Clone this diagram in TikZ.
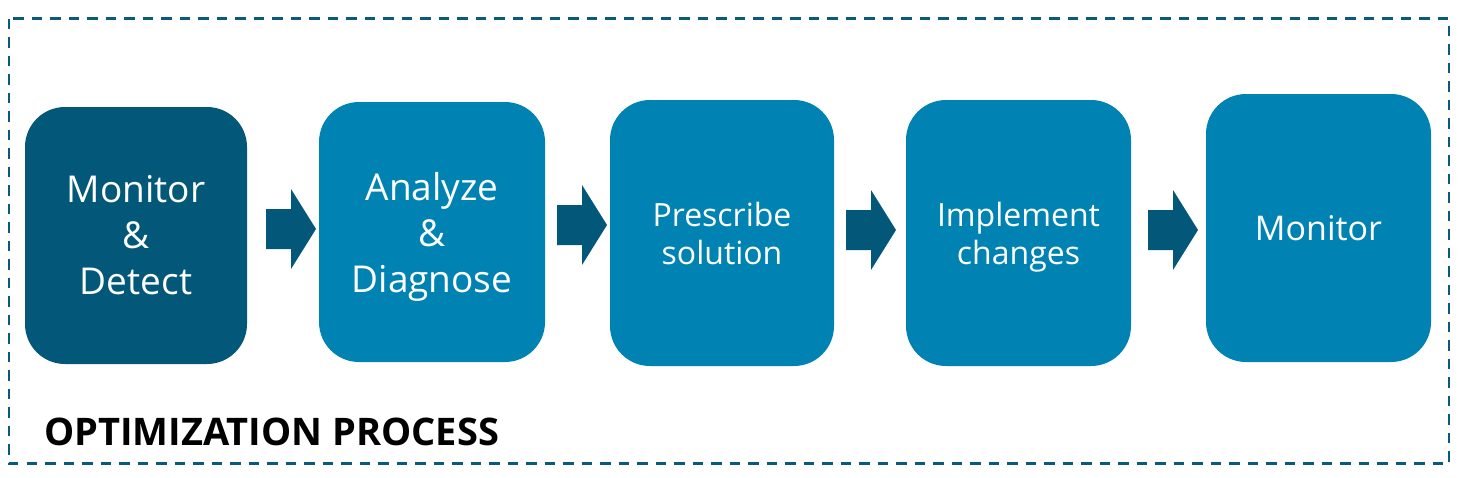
\documentclass[tikz,border=0pt]{standalone}
\usepackage{fontspec}
\setmainfont{Open Sans}
\usetikzlibrary{positioning}
\definecolor{darkteal}{HTML}{03587A}
\definecolor{midblue}{HTML}{0083B3}
\definecolor{framec}{HTML}{0A5A7B}
\newcommand{\blockarr}[3]{% name, x, y
  \fill[darkteal] (#2,#3-20) -- (#2+25,#3-20) -- (#2+25,#3-40) -- (#2+50,#3) -- (#2+25,#3+40) -- (#2+25,#3+20) -- (#2,#3+20) -- cycle;
  \coordinate (#1) at (#2+25,#3);
}
\tikzset{
  stepbox/.style={rectangle, rounded corners=40pt, fill=midblue, text=white, align=center, inner sep=0pt},
  bigtext/.style={font=\fontsize{37}{46}\selectfont},
  midtext/.style={font=\fontsize{32}{38}\selectfont},
}
\begin{document}
\begin{tikzpicture}[x=1pt,y=-1pt]
\useasboundingbox (0,0) rectangle (1459,477);
\draw[framec, line width=2.7pt, dash pattern=on 10.5pt off 8pt] (9,18.5) rectangle (1449,463.5);
\node[stepbox, fill=darkteal, bigtext, minimum width=222pt, minimum height=257pt] (b1) at (136,235.5) {Monitor\\\&\\Detect};
\node[stepbox, bigtext, text depth=0pt, minimum width=226pt, minimum height=260pt] (b2) at (432,232) {Analyze\\\&\\Diagnose};
\node[stepbox, midtext, minimum width=224pt, minimum height=266pt] (b3) at (722,233) {Prescribe\\solution};
\node[stepbox, midtext, text depth=0pt, minimum width=225pt, minimum height=266pt] (b4) at (1018.5,233) {Implement\\changes};
\node[stepbox, font=\fontsize{34}{40}\selectfont, minimum width=225pt, minimum height=268pt] (b5) at (1318.5,228) {Monitor};
\blockarr{a1}{266}{229}
\blockarr{a2}{557}{225}
\blockarr{a3}{846}{230}
\blockarr{a4}{1148}{230}
\node[anchor=base west, inner sep=0pt, font=\fontsize{38}{40}\selectfont\bfseries] (title) at (44,445) {OPTIMIZATION PROCESS};
\end{tikzpicture}
\end{document}
